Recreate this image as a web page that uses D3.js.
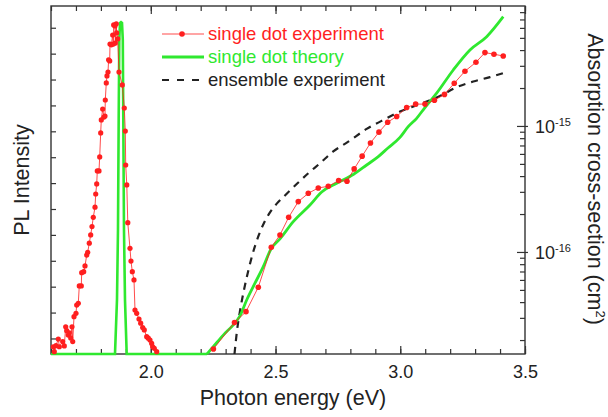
<!DOCTYPE html>
<html>
<head>
<meta charset="utf-8">
<script src="https://cdn.jsdelivr.net/npm/d3@7"></script>
<style>
  body { margin: 0; background: #fff; }
  svg { font-family: "Liberation Sans", Arial, sans-serif; }
</style>
</head>
<body>
<svg id="chart" width="608" height="417"></svg>
<script>
// PL of the single dot (arb. units)
const plExpEnergy = [1.6092,1.6132,1.6200,1.6293,1.6333,1.6469,1.6533,1.6589,1.6629,1.6693,
  1.6733,1.6790,1.6842,1.6870,1.6922,1.7002,1.7030,1.7094,1.7134,1.7214,
  1.7230,1.7311,1.7363,1.7431,1.7471,1.7535,1.7591,1.7643,1.7695,1.7764,
  1.7792,1.7832,1.7856,1.7924,1.7952,1.7992,1.8016,1.8072,1.8124,1.8164,
  1.8176,1.8216,1.8244,1.8285,1.8309,1.8353,1.8365,1.8417,1.8473,1.8497,
  1.8513,1.8565,1.8577,1.8617,1.8633,1.8673,1.8725,1.8858,1.8938,1.8978,
  1.8994,1.9038,1.9078,1.9166,1.9206,1.9259,1.9327,1.9367,1.9435,1.9527,
  1.9595,1.9675,1.9739,1.9836,1.9900,1.9968,2.0036,2.0076,2.0140,2.0236];
const plExpIntensity = [0.28,0.09,0.32,0.58,0.28,0.48,0.31,1.05,0.90,0.73,
  0.82,0.62,1.05,0.48,1.44,1.57,1.89,1.96,2.63,2.63,
  3.14,3.18,3.40,3.82,3.93,4.28,4.60,4.92,5.28,5.67,
  6.18,6.57,7.07,7.07,7.61,8.54,9.04,9.46,9.15,9.19,
  9.81,10.47,10.74,10.89,11.36,11.32,11.97,11.94,12.32,11.97,
  12.71,12.67,12.01,12.75,12.40,12.17,10.89,10.39,9.50,8.61,
  7.30,6.53,5.07,4.08,3.59,3.18,2.86,1.70,1.57,1.35,
  1.19,1.02,0.93,0.67,0.61,0.54,0.41,0.28,0.22,0.09];
const plTheoryEnergy = [1.6,1.8565,1.8645,1.8685,1.8713,1.8737,1.8766,1.8806,1.8846,1.8878,1.8898,1.8926,1.8966,1.9034,2.2253];
const plTheoryIntensity = [0,0,2.09,4.79,9.04,12.13,12.79,12.82,12.79,12.13,9.04,4.79,2.09,0,0];

// absorption cross-section, in units of 1e-16 cm^2
const absExpEnergy = [2.251,2.3355,2.3816,2.4309,2.483,2.5178,2.5527,2.5912,2.6313,2.6713,
  2.7114,2.7531,2.7864,2.8152,2.8473,2.8806,2.9146,2.9495,2.9856,3.0257,
  3.0617,3.099,3.137,3.1772,3.2164,3.2593,3.3034,3.3395,3.3756,3.4128];
const absExpSigma = [0.170,0.275,0.336,0.525,1.09,1.364,1.885,2.51,2.92,3.22,
  3.32,3.69,3.64,4.56,5.76,7.33,8.93,10.7,11.9,14.0,
  14.9,14.9,16.0,17.8,21.8,27.2,32.0,38.2,37.1,35.9];
const absTheoryEnergy = [2.2253,2.2505,2.2906,2.3307,2.3575,2.3844,2.4176,2.4509,2.4818,2.5178,
  2.5711,2.6381,2.685,2.7451,2.8116,2.8653,2.9118,2.9507,2.9988,3.0309,
  3.0657,3.099,3.1459,3.2124,3.2794,3.3463,3.4128];
const absTheorySigma = [0.155,0.177,0.219,0.264,0.311,0.416,0.565,0.764,1.056,1.27,
  1.74,2.36,2.99,3.51,4.12,4.90,5.71,6.69,8.11,9.82,
  11.5,14.0,18.2,27.8,40.1,51.1,73.7];
const ensembleEnergy = [2.3355,2.3455,2.3575,2.3735,2.3916,2.4116,2.4317,2.4537,2.4778,2.5058,
  2.5379,2.5848,2.6313,2.6782,2.7315,2.7916,2.8653,2.9455,2.9988,3.079,
  3.1591,3.2261,3.2926,3.3595,3.4196];
const ensembleSigma = [0.155,0.236,0.340,0.499,0.720,1.018,1.34,1.70,2.06,2.43,
  2.81,3.46,4.21,5.06,6.28,7.50,9.47,11.5,13.0,14.9,
  17.3,20.3,22.5,24.4,26.5];

const xMajorTicks = [2.0, 2.5, 3.0, 3.5];
const xTickLabels = ["2.0", "2.5", "3.0", "3.5"];
const absMajorTicks = [1, 10];
const absTickExponents = ["-16", "-15"];
const legendLabels = ["single dot experiment", "single dot theory", "ensemble experiment"];

const red = "#ff1f1f", green = "#2fe82f", black = "#222";

const svg = d3.select("#chart");
const plotLeft = 51, plotRight = 525, plotTop = 6, plotBottom = 354;

const x = d3.scaleLinear().domain([1.6, 3.5]).range([plotLeft, plotRight]);
const yPL = d3.scaleLinear().domain([0, 13.44]).range([plotBottom, plotTop]);
const yAbs = d3.scaleLog().domain([0.155, 89.5]).range([plotBottom, plotTop]);

const zip = (a, b) => a.map((v, i) => [v, b[i]]);

// frame + ticks (all pointing inward)
const minorX = d3.range(16, 36).map(d => d / 10);
function styleAxis(g) {
  g.select(".domain").remove();
  g.selectAll("line").attr("stroke", "#333").attr("stroke-width", 1.2);
  g.selectAll("text").attr("fill", "#222").attr("font-family", "Liberation Sans, Arial, sans-serif");
}
svg.append("g").attr("transform", `translate(0,${plotBottom})`)
  .call(d3.axisBottom(x).tickValues(minorX).tickSize(-5).tickFormat("")).call(styleAxis);
svg.append("g").attr("transform", `translate(0,${plotBottom})`)
  .call(d3.axisBottom(x).tickValues(xMajorTicks).tickSize(-8).tickPadding(11)
    .tickFormat((d, i) => xTickLabels[i]))
  .call(styleAxis)
  .selectAll("text").attr("font-size", 18);
svg.append("g").attr("transform", `translate(0,${plotTop})`)
  .call(d3.axisTop(x).tickValues(minorX).tickSize(-5).tickFormat("")).call(styleAxis);
svg.append("g").attr("transform", `translate(0,${plotTop})`)
  .call(d3.axisTop(x).tickValues(xMajorTicks).tickSize(-8).tickFormat("")).call(styleAxis);

svg.append("g").attr("transform", `translate(${plotLeft},0)`)
  .call(d3.axisLeft(yPL).tickValues(d3.range(0.6, 13, 1)).tickSize(-5).tickFormat("")).call(styleAxis);

const absMinor = [];
[0.1, 1, 10].forEach(dec => d3.range(2, 10).forEach(k => {
  const v = k * dec;
  if (v > 0.155 && v < 89.5) absMinor.push(v);
}));
svg.append("g").attr("transform", `translate(${plotRight},0)`)
  .call(d3.axisRight(yAbs).tickValues(absMinor).tickSize(-5).tickFormat("")).call(styleAxis);
svg.append("g").attr("transform", `translate(${plotRight},0)`)
  .call(d3.axisRight(yAbs).tickValues(absMajorTicks).tickSize(3).tickFormat("")).call(styleAxis);
const absLabels = svg.append("g").attr("transform", `translate(${plotRight},0)`)
  .call(d3.axisRight(yAbs).tickValues(absMajorTicks).tickSize(-8).tickPadding(10).tickFormat(""))
  .call(styleAxis);
absLabels.selectAll(".tick text")
  .attr("font-size", 18).attr("dy", "0.38em")
  .each(function(d, i) {
    const t = d3.select(this);
    t.text("10");
    t.append("tspan").attr("font-size", 11).attr("dy", -7).text(absTickExponents[i]);
  });

svg.append("rect")
  .attr("x", plotLeft).attr("y", plotTop)
  .attr("width", plotRight - plotLeft).attr("height", plotBottom - plotTop)
  .attr("fill", "none").attr("stroke", "#333").attr("stroke-width", 1.4);

// curves
const linePL = d3.line().x(d => x(d[0])).y(d => yPL(d[1]));
const lineAbs = d3.line().x(d => x(d[0])).y(d => yAbs(d[1]));
const smoothAbs = d3.line().x(d => x(d[0])).y(d => yAbs(d[1])).curve(d3.curveMonotoneX);

svg.append("path").datum(zip(ensembleEnergy, ensembleSigma))
  .attr("d", smoothAbs).attr("fill", "none")
  .attr("stroke", black).attr("stroke-width", 2.2).attr("stroke-dasharray", "7,6");

svg.append("path").datum(zip(plTheoryEnergy, plTheoryIntensity))
  .attr("d", linePL).attr("fill", "none").attr("stroke", green).attr("stroke-width", 2.6);
svg.append("path").datum(zip(absTheoryEnergy, absTheorySigma))
  .attr("d", smoothAbs).attr("fill", "none").attr("stroke", green).attr("stroke-width", 2.8);

const plExp = zip(plExpEnergy, plExpIntensity);
const absExp = zip(absExpEnergy, absExpSigma);
svg.append("path").datum(plExp).attr("d", linePL)
  .attr("fill", "none").attr("stroke", red).attr("stroke-opacity", 0.8).attr("stroke-width", 1);
svg.append("path").datum(absExp).attr("d", lineAbs)
  .attr("fill", "none").attr("stroke", red).attr("stroke-opacity", 0.8).attr("stroke-width", 1);
svg.append("g").selectAll("circle").data(plExp).enter().append("circle")
  .attr("cx", d => x(d[0])).attr("cy", d => yPL(d[1])).attr("r", 2.6).attr("fill", red);
svg.append("g").selectAll("circle").data(absExp).enter().append("circle")
  .attr("cx", d => x(d[0])).attr("cy", d => yAbs(d[1])).attr("r", 2.8).attr("fill", red);

// legend
const legend = svg.append("g");
const legendColors = [red, green, black];
legendLabels.forEach((label, i) => {
  const ly = 34 + i * 23;
  const ln = legend.append("line")
    .attr("x1", 162).attr("x2", 204).attr("y1", ly).attr("y2", ly)
    .attr("stroke", legendColors[i]);
  if (i === 0) {
    ln.attr("stroke-width", 1).attr("stroke-opacity", 0.8);
    legend.append("circle").attr("cx", 182).attr("cy", ly).attr("r", 2.8).attr("fill", red);
  } else if (i === 1) {
    ln.attr("stroke-width", 2.8);
  } else {
    ln.attr("stroke-width", 2.2).attr("stroke-dasharray", "7,8");
  }
  legend.append("text")
    .attr("x", 208).attr("y", ly + 6)
    .attr("font-size", 18.5).attr("fill", i === 2 ? "#222" : legendColors[i])
    .text(label);
});

// axis titles
svg.append("text")
  .attr("x", (plotLeft + plotRight) / 2 + 5).attr("y", 405)
  .attr("text-anchor", "middle").attr("font-size", 21.5).attr("fill", "#222")
  .text("Photon energy (eV)");
svg.append("text")
  .attr("transform", "translate(29,180) rotate(-90)")
  .attr("text-anchor", "middle").attr("font-size", 21.5).attr("fill", "#222")
  .text("PL Intensity");
const rt = svg.append("text")
  .attr("transform", "translate(588,179) rotate(90)")
  .attr("text-anchor", "middle").attr("font-size", 21.5).attr("fill", "#222");
rt.append("tspan").text("Absorption cross-section (cm");
rt.append("tspan").attr("font-size", 13).attr("dy", -8).text("2");
rt.append("tspan").attr("dy", 8).text(")");
</script>
</body>
</html>
